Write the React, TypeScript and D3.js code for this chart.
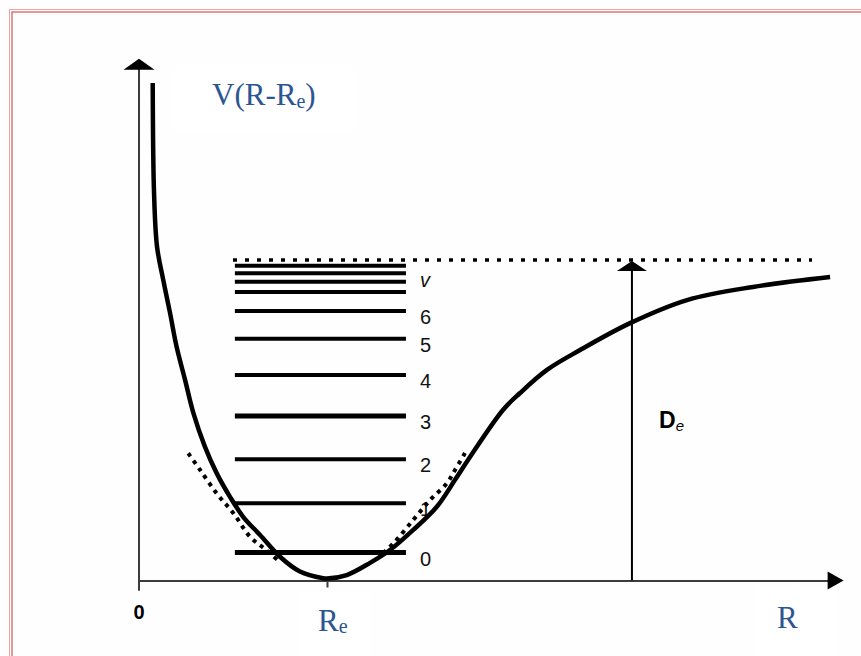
import React, { useEffect, useRef } from "react";
import * as d3 from "d3";

// Morse potential: R in units of Re, V in units of De
const curveR = [0.073, 0.08, 0.096, 0.129, 0.165, 0.2, 0.245, 0.289, 0.351, 0.413, 0.484, 0.555, 0.644, 0.75, 0.856, 0.979, 1.0, 1.105, 1.229, 1.335, 1.459, 1.584, 1.681, 1.75, 1.936, 2.027, 2.17, 2.346, 2.612, 2.915, 3.266, 3.676];
const curveV = [1.552, 1.209, 1.041, 0.938, 0.835, 0.729, 0.626, 0.523, 0.417, 0.335, 0.261, 0.198, 0.142, 0.074, 0.028, 0.007, 0.006, 0.017, 0.055, 0.095, 0.158, 0.23, 0.314, 0.376, 0.532, 0.585, 0.657, 0.719, 0.803, 0.875, 0.916, 0.947];

// harmonic approximation (dotted), the two visible branches
const harmLeftR = [0.262, 0.325, 0.413, 0.502, 0.59, 0.67, 0.75];
const harmLeftV = [0.397, 0.345, 0.272, 0.21, 0.137, 0.098, 0.058];
const harmRightR = [1.298, 1.353, 1.459, 1.548, 1.637, 1.681, 1.734];
const harmRightV = [0.086, 0.116, 0.189, 0.251, 0.303, 0.345, 0.398];

// vibrational levels
const levelV = [0.087, 0.241, 0.378, 0.513, 0.641, 0.754, 0.841, 0.9, 0.932, 0.959, 0.982];
const levelLabels = ["0", "1", "2", "3", "4", "5", "6"];
const levelSpan = [0.51, 1.42];

const Re = 1;
const De = 1;
const dissocSpan = [0.5, 3.58];
const deArrowR = 2.622;
const xMax = 3.7;
const yMax = 1.6;

const W = 861;
const H = 656;

export default function App() {
  const svgRef = useRef<SVGSVGElement>(null);

  useEffect(() => {
    const svg = d3.select(svgRef.current);
    svg.selectAll("*").remove();

    const x = d3.scaleLinear().domain([0, xMax]).range([139, 834.6]);
    const y = d3.scaleLinear().domain([0, De]).range([580.5, 260]);
    const blue = "#2c5592";
    const axisCol = "#3c3c3c";
    const sans = "'Liberation Sans', Arial, sans-serif";
    const serif = "'Liberation Serif', 'Times New Roman', serif";

    svg.append("rect").attr("width", W).attr("height", H).attr("fill", "#fefefe");
    // page frame (double red rule)
    svg.append("rect").attr("x", 9.5).attr("y", 9.5).attr("width", 1000).attr("height", 1000)
      .attr("fill", "none").attr("stroke", "#eaa6a6").attr("stroke-width", 1);
    svg.append("rect").attr("x", 12).attr("y", 12).attr("width", 1000).attr("height", 1000)
      .attr("fill", "none").attr("stroke", "#d9625e").attr("stroke-width", 1.3);

    // faint white boxes behind the labels
    svg.append("rect").attr("x", 175).attr("y", 65).attr("width", 178).attr("height", 67).attr("fill", "#fff");
    svg.append("rect").attr("x", 298).attr("y", 592).attr("width", 72).attr("height", 64).attr("fill", "#fff");
    svg.append("rect").attr("x", 757).attr("y", 586).attr("width", 76).attr("height", 70).attr("fill", "#fff");

    // x axis with the Re tick
    const xAxis = d3.axisBottom(x).tickValues([Re]).tickSize(7).tickSizeOuter(0).tickFormat(() => "");
    const gx = svg.append("g").attr("transform", `translate(0,${y(0)})`).call(xAxis);
    gx.select(".domain").attr("stroke", axisCol).attr("stroke-width", 2);
    gx.selectAll(".tick line").attr("stroke", axisCol).attr("stroke-width", 2);
    svg.append("path")
      .attr("d", `M${x(xMax) - 7},${y(0) - 9}L${x(xMax) + 9},${y(0)}L${x(xMax) - 7},${y(0) + 9}Z`)
      .attr("fill", "#000");

    // y axis
    svg.append("line").attr("x1", x(0)).attr("x2", x(0)).attr("y1", y(-0.032)).attr("y2", y(yMax))
      .attr("stroke", axisCol).attr("stroke-width", 2);
    svg.append("path")
      .attr("d", `M${x(0) - 15.5},${y(yMax) + 2}L${x(0)},${y(yMax) - 9}L${x(0) + 15.5},${y(yMax) + 2}Z`)
      .attr("fill", "#000");

    // level labels (under the curve, as in the original)
    const lab = svg.append("g").attr("font-family", sans).attr("font-size", 20).attr("fill", "#111");
    levelLabels.forEach((t, i) => {
      lab.append("text").attr("x", 420).attr("y", y(levelV[i]) + 13).text(t);
    });
    lab.append("text").attr("x", 420).attr("y", y(levelV[7]) - 5).attr("font-style", "italic").text("v");

    // vibrational levels
    svg.append("g").selectAll("line").data(levelV).join("line")
      .attr("x1", x(levelSpan[0])).attr("x2", x(levelSpan[1]))
      .attr("y1", (d) => y(d)).attr("y2", (d) => y(d))
      .attr("stroke", "#000").attr("stroke-width", (d, i) => (i === 0 || i === 3 ? 5 : 4));

    // dissociation limit
    svg.append("line").attr("x1", x(dissocSpan[0])).attr("x2", x(dissocSpan[1]))
      .attr("y1", y(De)).attr("y2", y(De))
      .attr("stroke", "#000").attr("stroke-width", 3.5).attr("stroke-dasharray", "4 8");

    const line = d3.line<[number, number]>()
      .x((d) => x(d[0])).y((d) => y(d[1]))
      .curve(d3.curveCatmullRom.alpha(0.5));

    // harmonic branches
    [[harmLeftR, harmLeftV], [harmRightR, harmRightV]].forEach(([rs, vs]) => {
      svg.append("path").attr("d", line(rs.map((r, i) => [r, vs[i]]))!)
        .attr("fill", "none").attr("stroke", "#000").attr("stroke-width", 4).attr("stroke-dasharray", "4 5");
    });

    // Morse curve
    svg.append("path").attr("d", line(curveR.map((r, i) => [r, curveV[i]]))!)
      .attr("fill", "none").attr("stroke", "#000").attr("stroke-width", 4.5).attr("stroke-linejoin", "round");

    // De arrow
    svg.append("line").attr("x1", x(deArrowR)).attr("x2", x(deArrowR)).attr("y1", y(0)).attr("y2", y(De) + 8)
      .attr("stroke", "#000").attr("stroke-width", 2);
    svg.append("path")
      .attr("d", `M${x(deArrowR) - 15},${y(De) + 11}L${x(deArrowR)},${y(De) + 1}L${x(deArrowR) + 15},${y(De) + 11}Z`)
      .attr("fill", "#000");
    const de = svg.append("text").attr("x", 659).attr("y", 428)
      .attr("font-family", sans).attr("font-size", 23).attr("font-weight", "bold");
    de.append("tspan").text("D");
    de.append("tspan").attr("font-size", 15).attr("font-weight", "normal").attr("font-style", "italic").attr("dy", 3).text("e");

    // origin label
    svg.append("text").attr("x", x(0)).attr("y", 619).attr("text-anchor", "middle")
      .attr("font-family", sans).attr("font-size", 20).attr("font-weight", "bold").text("0");

    // blue labels
    const vt = svg.append("text").attr("x", 212).attr("y", 105).attr("font-family", serif).attr("font-size", 31).attr("fill", blue);
    vt.append("tspan").text("V(R-R");
    vt.append("tspan").attr("font-size", 20).attr("dy", 3).text("e");
    vt.append("tspan").attr("dy", -3).text(")");

    const rt = svg.append("text").attr("x", 318).attr("y", 631).attr("font-family", serif).attr("font-size", 31).attr("fill", blue);
    rt.append("tspan").text("R");
    rt.append("tspan").attr("font-size", 20).attr("dy", 2).text("e");

    svg.append("text").attr("x", 777).attr("y", 628).attr("font-family", serif).attr("font-size", 31).attr("fill", blue).text("R");
  }, []);

  return (
    <svg ref={svgRef} width={W} height={H} style={{ position: "absolute", left: 0, top: 0, display: "block" }} />
  );
}
